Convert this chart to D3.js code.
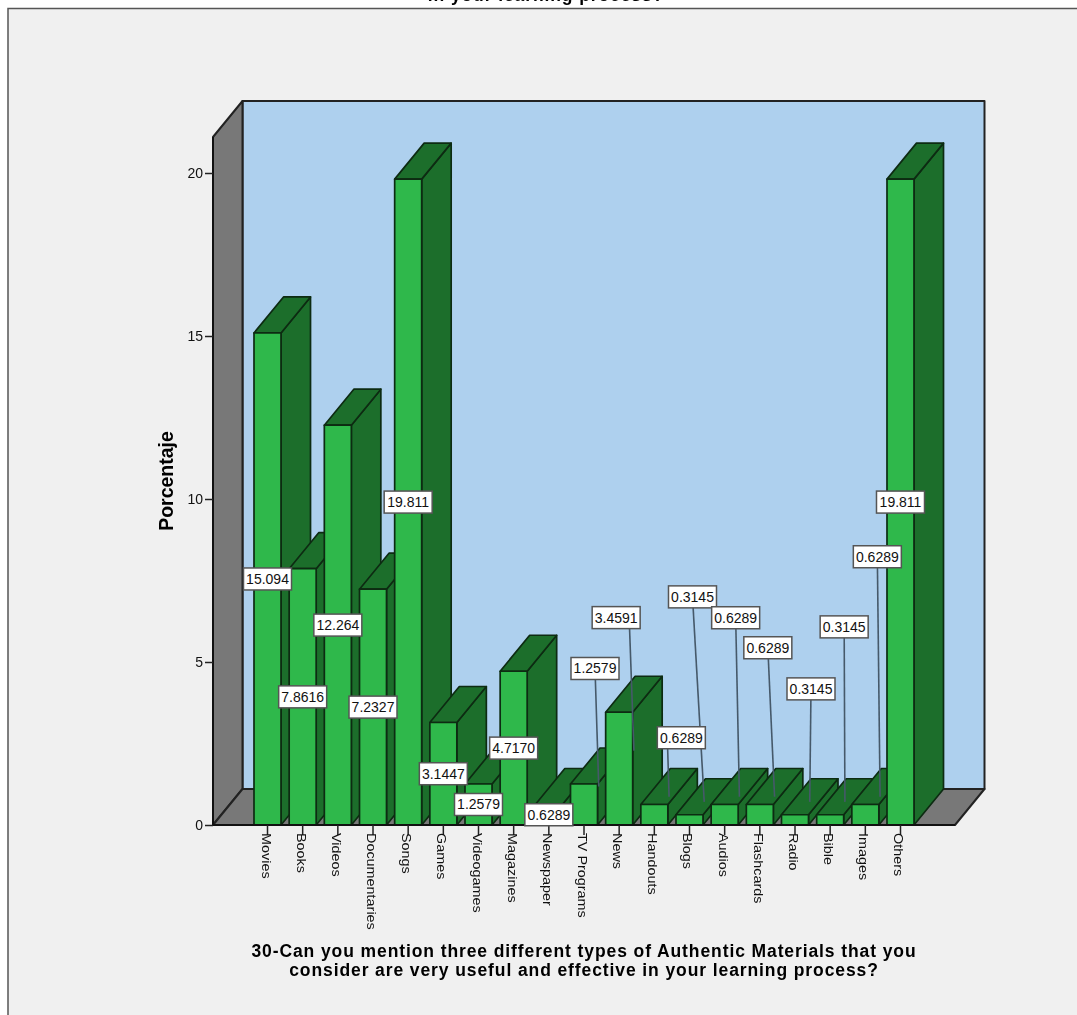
<!DOCTYPE html>
<html><head><meta charset="utf-8">
<script src="https://cdn.jsdelivr.net/npm/d3@7/dist/d3.min.js"></script>
<style>
html,body{margin:0;padding:0;background:#fff}
svg{display:block;filter:blur(0.65px)}
text{font-family:"Liberation Sans",Arial,sans-serif}
</style></head><body><div id="chart"></div>
<script>
const categories=["Movies","Books","Videos","Documentaries","Songs","Games","Videogames","Magazines","Newspaper","TV Programs","News","Handouts","Blogs","Audios","Flashcards","Radio","Bible","Images","Others"];
const values=[15.094,7.8616,12.264,7.2327,19.811,3.1447,1.2579,4.7170,0.6289,1.2579,3.4591,0.6289,0.3145,0.6289,0.6289,0.3145,0.3145,0.6289,19.811];
const labelTexts=["15.094","7.8616","12.264","7.2327","19.811","3.1447","1.2579","4.7170","0.6289","1.2579","3.4591","0.6289","0.3145","0.6289","0.6289","0.3145","0.3145","0.6289","19.811"];
const yTicks=[0,5,10,15,20];
const yTitle="Porcentaje";
const xTitleLines=["30-Can you mention three different types of Authentic Materials that you","consider are very useful and effective in your learning process?"];
const clippedTitle="in your learning process?";
// callout label displacement from the default label spot, plus leader start shift (layout only)
const calloutOffsets={"TV Programs":[11,-136,0],"News":[-3,-151,13],"Handouts":[27,-77,-14],"Blogs":[3,-223,0],"Audios":[11,-197,0],"Flashcards":[8,-167,0],"Radio":[16,-131,0],"Bible":[14,-193,0],"Images":[12,-258,0]};

const W=1077,H=1015;
const svg=d3.select("#chart").append("svg").attr("width",W).attr("height",H);
const base=825,left=213,right=955,depthX=29.5,depthY=-36;
const y=d3.scaleLinear().domain([0,20]).range([base,173]);
const x=d3.scaleBand().domain(categories).range([254,914]).paddingInner(0.232).paddingOuter(0);
const wallTop=137;
const poly=(pts,fill,sw=2)=>svg.append("polygon").attr("points",pts.map(p=>p.join(",")).join(" ")).attr("fill",fill).attr("stroke","#222").attr("stroke-width",sw).attr("stroke-linejoin","round");

// page frame
svg.append("rect").attr("x",8).attr("y",8.5).attr("width",W+20).attr("height",H+20).attr("fill","#f0f0f0").attr("stroke","#555").attr("stroke-width",1.5);
svg.append("text").attr("x",546).attr("y",1).attr("text-anchor","middle").attr("font-weight","bold").attr("font-size",17.5).attr("letter-spacing",0.9).attr("fill","#000").text(clippedTitle);

// 3D walls
poly([[left+depthX,wallTop+depthY],[right+depthX,wallTop+depthY],[right+depthX,base+depthY],[left+depthX,base+depthY]],"#aed0ee");
poly([[left,base],[left+depthX,base+depthY],[left+depthX,wallTop+depthY],[left,wallTop]],"#787878");
poly([[left,base],[left+depthX,base+depthY],[right+depthX,base+depthY],[right,base]],"#787878");

// bars
const bw=x.bandwidth();
const bars=svg.append("g").selectAll("g").data(categories).join("g");
bars.each(function(c,i){
  const g=d3.select(this),x0=x(c),x1=x0+bw,t=y(values[i]);
  const add=(pts,fill)=>g.append("polygon").attr("points",pts.map(p=>p.join(",")).join(" ")).attr("fill",fill).attr("stroke","#0d2b12").attr("stroke-width",1.7).attr("stroke-linejoin","round");
  add([[x1,base],[x1+depthX,base+depthY],[x1+depthX,t+depthY],[x1,t]],"#1c6e2b");
  add([[x0,t],[x0+depthX,t+depthY],[x1+depthX,t+depthY],[x1,t]],"#1c6e2b");
  add([[x0,base],[x1,base],[x1,t],[x0,t]],"#2fb84b");
});

// axes
const yAxis=svg.append("g").attr("transform",`translate(${left},0)`).call(d3.axisLeft(y).tickValues(yTicks).tickSize(8).tickSizeOuter(0));
yAxis.select(".domain").attr("stroke","#111").attr("stroke-width",2).attr("d",`M0,${base}V${wallTop}`);
yAxis.selectAll("line").attr("stroke","#222").attr("stroke-width",1.5);
yAxis.selectAll("text").attr("font-size",14).attr("fill","#111").attr("x",-10).attr("font-family",'"Liberation Sans",Arial,sans-serif');
const xAxis=svg.append("g").attr("transform",`translate(0,${base})`).call(d3.axisBottom(x).tickSize(10).tickSizeOuter(0));
xAxis.select(".domain").attr("stroke","#111").attr("stroke-width",2).attr("d",`M${left},0H${right}`);
xAxis.selectAll("line").attr("stroke","#222").attr("stroke-width",1.5);
xAxis.selectAll("text").attr("font-size",12).attr("fill","#111").attr("font-family",'"Liberation Sans",Arial,sans-serif')
  .attr("text-anchor","start").attr("dy",0).attr("y",0).attr("x",0)
  .attr("transform","translate(-6,8) rotate(90) scale(1.2,1)");

// leaders then label boxes
const spot=i=>{const c=categories[i],o=calloutOffsets[c]||[0,0,0],cx=x(c)+bw/2,cy=y(values[i]/2);return {cx,cy,lx:cx+o[0],ly:cy+o[1],sx:o[2],moved:!!calloutOffsets[c]};};
const leaders=svg.append("g"),labels=svg.append("g");
categories.forEach((c,i)=>{
  const s=spot(i);
  if(s.moved) leaders.append("line").attr("x1",s.lx+s.sx).attr("y1",s.ly).attr("x2",s.cx+depthX/2).attr("y2",s.cy+depthY/2).attr("stroke","#46596a").attr("stroke-width",1.6);
  const g=labels.append("g").attr("transform",`translate(${s.lx},${s.ly})`);
  g.append("rect").attr("x",-24).attr("y",-11).attr("width",48).attr("height",22).attr("fill","#fff").attr("stroke","#555").attr("stroke-width",1.5);
  g.append("text").attr("text-anchor","middle").attr("y",5).attr("font-size",14).attr("fill","#111").text(labelTexts[i]);
});

// titles
svg.append("text").attr("transform","translate(173,481) rotate(-90)").attr("text-anchor","middle").attr("font-weight","bold").attr("font-size",19.5).attr("fill","#000").text(yTitle);
xTitleLines.forEach((t,i)=>svg.append("text").attr("x",584).attr("y",957+i*18.5).attr("text-anchor","middle").attr("font-weight","bold").attr("font-size",17.5).attr("letter-spacing",0.9).attr("fill","#000").text(t));
</script></body></html>
